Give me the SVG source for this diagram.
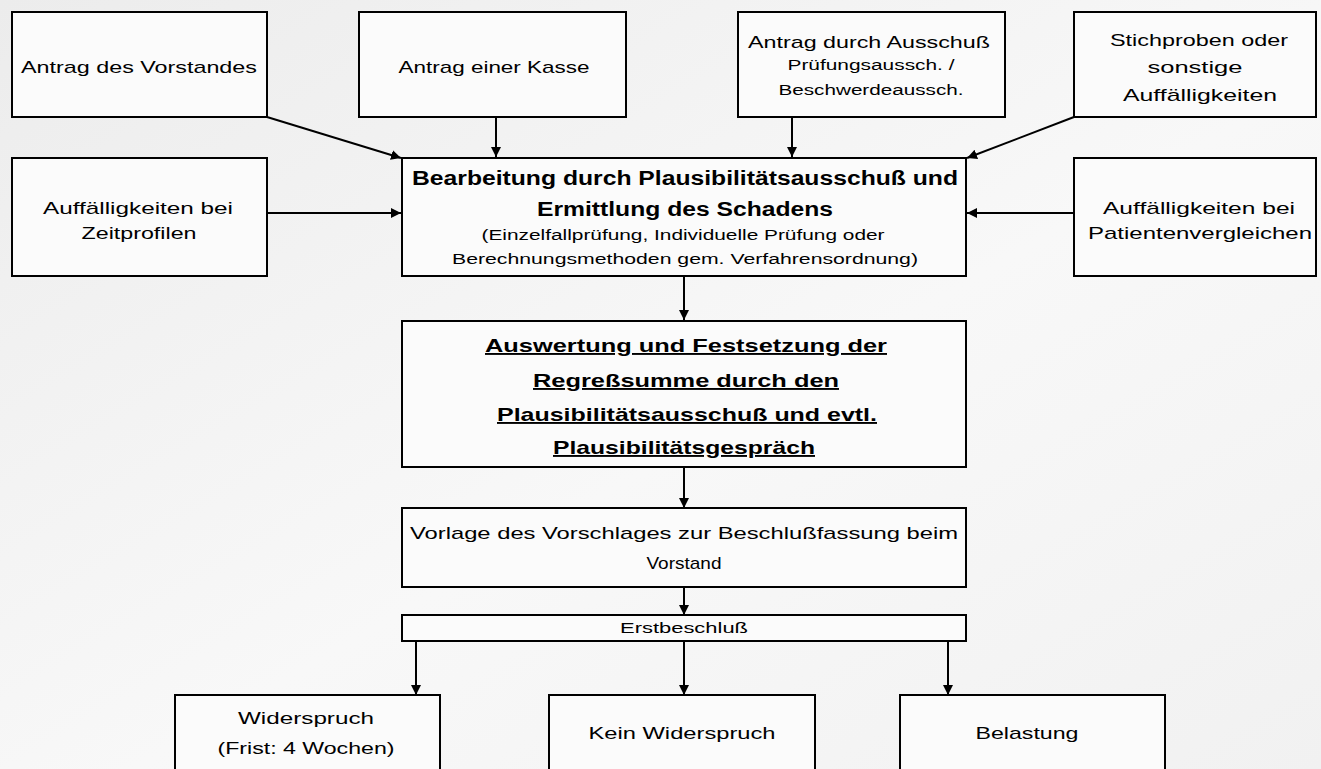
<svg xmlns="http://www.w3.org/2000/svg" width="1321" height="769" viewBox="0 0 1321 769">
<defs>
<linearGradient id="bg" x1="0" y1="0" x2="1" y2="1">
<stop offset="0" stop-color="#ececec"/>
<stop offset="0.55" stop-color="#f8f8f8"/>
<stop offset="1" stop-color="#f1f1f1"/>
</linearGradient>
<marker id="ah" viewBox="0 0 10 10" refX="10" refY="5" markerWidth="10" markerHeight="10" markerUnits="userSpaceOnUse" orient="auto">
<path d="M0,0 L10,5 L0,10 z" fill="#000"/>
</marker>
<style>
.box{fill:#fbfbfb;stroke:#000;stroke-width:2}
.t{font-family:"Liberation Sans",Arial,sans-serif;font-size:17px;fill:#000;text-anchor:middle}
.s{font-size:14px}
.b{font-weight:bold;font-size:20px}
.u{font-weight:bold;font-size:19px;text-decoration:underline}
.c{stroke:#000;stroke-width:2;fill:none;marker-end:url(#ah)}
</style>
</defs>
<rect width="1321" height="769" fill="url(#bg)"/>

<g id="connectors">
<line class="c" x1="267" y1="117" x2="401" y2="158"/>
<line class="c" x1="496" y1="117" x2="496" y2="157"/>
<line class="c" x1="792" y1="117" x2="792" y2="157"/>
<line class="c" x1="1074" y1="117" x2="967" y2="158"/>
<line class="c" x1="267" y1="213" x2="401" y2="213"/>
<line class="c" x1="1074" y1="213" x2="967" y2="213"/>
<line class="c" x1="684" y1="276" x2="684" y2="320"/>
<line class="c" x1="684" y1="467" x2="684" y2="508"/>
<line class="c" x1="684" y1="587" x2="684" y2="615"/>
<line class="c" x1="416" y1="641" x2="416" y2="695"/>
<line class="c" x1="684" y1="641" x2="684" y2="695"/>
<line class="c" x1="948" y1="641" x2="948" y2="695"/>
</g>

<g id="n-vorstand">
<rect class="box" x="12" y="12" width="255" height="105"/>
<text class="t" x="139" y="73" textLength="236" lengthAdjust="spacingAndGlyphs">Antrag des Vorstandes</text>
</g>
<g id="n-kasse">
<rect class="box" x="359" y="12" width="267" height="105"/>
<text class="t" x="494" y="73" textLength="191" lengthAdjust="spacingAndGlyphs">Antrag einer Kasse</text>
</g>
<g id="n-ausschuss">
<rect class="box" x="738" y="12" width="267" height="105"/>
<text class="t" x="869" y="48" textLength="242" lengthAdjust="spacingAndGlyphs">Antrag durch Ausschuß</text>
<text class="t s" x="871" y="70" textLength="167" lengthAdjust="spacingAndGlyphs">Prüfungsaussch. /</text>
<text class="t s" x="871" y="95" textLength="185" lengthAdjust="spacingAndGlyphs">Beschwerdeaussch.</text>
</g>
<g id="n-stichproben">
<rect class="box" x="1074" y="12" width="242" height="105"/>
<text class="t" x="1199" y="46" textLength="178" lengthAdjust="spacingAndGlyphs">Stichproben oder</text>
<text class="t" x="1195" y="73" textLength="95" lengthAdjust="spacingAndGlyphs">sonstige</text>
<text class="t" x="1200" y="101" textLength="154" lengthAdjust="spacingAndGlyphs">Auffälligkeiten</text>
</g>
<g id="n-zeitprofilen">
<rect class="box" x="12" y="158" width="255" height="118"/>
<text class="t" x="138" y="214" textLength="190" lengthAdjust="spacingAndGlyphs">Auffälligkeiten bei</text>
<text class="t" x="139" y="239" textLength="115" lengthAdjust="spacingAndGlyphs">Zeitprofilen</text>
</g>
<g id="n-bearbeitung">
<rect class="box" x="402" y="158" width="564" height="118"/>
<text class="t b" x="685" y="185" textLength="546" lengthAdjust="spacingAndGlyphs">Bearbeitung durch Plausibilitätsausschuß und</text>
<text class="t b" x="685" y="216" textLength="296" lengthAdjust="spacingAndGlyphs">Ermittlung des Schadens</text>
<text class="t s" x="683" y="240" textLength="403" lengthAdjust="spacingAndGlyphs">(Einzelfallprüfung, Individuelle Prüfung oder</text>
<text class="t s" x="685" y="264" textLength="466" lengthAdjust="spacingAndGlyphs">Berechnungsmethoden gem. Verfahrensordnung)</text>
</g>
<g id="n-patienten">
<rect class="box" x="1074" y="158" width="242" height="118"/>
<text class="t" x="1199" y="214" textLength="192" lengthAdjust="spacingAndGlyphs">Auffälligkeiten bei</text>
<text class="t" x="1200" y="239" textLength="224" lengthAdjust="spacingAndGlyphs">Patientenvergleichen</text>
</g>
<g id="n-auswertung">
<rect class="box" x="402" y="321" width="564" height="146"/>
<text class="t u" x="686" y="352" textLength="402" lengthAdjust="spacingAndGlyphs">Auswertung und Festsetzung der </text>
<text class="t u" x="686" y="387" textLength="306" lengthAdjust="spacingAndGlyphs">Regreßsumme durch den </text>
<text class="t u" x="687" y="421" textLength="380" lengthAdjust="spacingAndGlyphs">Plausibilitätsausschuß und evtl. </text>
<text class="t u" x="684" y="454" textLength="262" lengthAdjust="spacingAndGlyphs">Plausibilitätsgespräch</text>
</g>
<g id="n-vorlage">
<rect class="box" x="402" y="508" width="564" height="79"/>
<text class="t" x="684" y="539" textLength="548" lengthAdjust="spacingAndGlyphs">Vorlage des Vorschlages zur Beschlußfassung beim</text>
<text class="t" x="684" y="569" textLength="75" lengthAdjust="spacingAndGlyphs">Vorstand</text>
</g>
<g id="n-erstbeschluss">
<rect class="box" x="402" y="615" width="564" height="26"/>
<text class="t s" x="684" y="633" textLength="128" lengthAdjust="spacingAndGlyphs">Erstbeschluß</text>
</g>
<g id="n-widerspruch">
<rect class="box" x="175" y="695" width="265" height="80"/>
<text class="t" x="306" y="724" textLength="136" lengthAdjust="spacingAndGlyphs">Widerspruch</text>
<text class="t" x="306" y="754" textLength="177" lengthAdjust="spacingAndGlyphs">(Frist: 4 Wochen)</text>
</g>
<g id="n-kein">
<rect class="box" x="549" y="695" width="266" height="80"/>
<text class="t" x="682" y="739" textLength="187" lengthAdjust="spacingAndGlyphs">Kein Widerspruch</text>
</g>
<g id="n-belastung">
<rect class="box" x="900" y="695" width="265" height="80"/>
<text class="t" x="1027" y="739" textLength="103" lengthAdjust="spacingAndGlyphs">Belastung</text>
</g>
</svg>
